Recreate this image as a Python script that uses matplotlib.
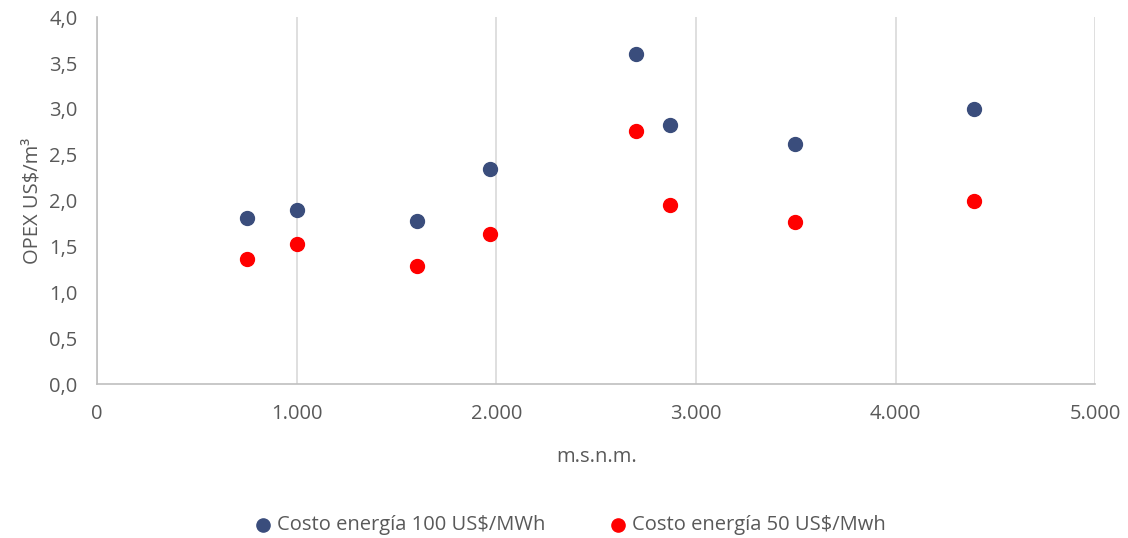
import matplotlib.pyplot as plt
from matplotlib.ticker import FuncFormatter, MultipleLocator

plt.rcParams["font.family"] = ["Open Sans", "DejaVu Sans"]

altitud = [751, 1002, 1603, 1969, 2700, 2871, 3497, 4394]
opex_100 = [1.81, 1.90, 1.78, 2.34, 3.60, 2.82, 2.62, 3.00]
opex_50 = [1.36, 1.53, 1.29, 1.64, 2.76, 1.95, 1.77, 2.00]

text_color = "#595959"
grid_color = "#d9d9d9"
fs = 14.5

fig = plt.figure(figsize=(11.28, 5.38), dpi=100)
ax = fig.add_axes([0.086, 0.286, 0.885, 0.682])

ax.scatter(altitud, opex_100, s=100, color="#3a4d7c", label="Costo energía 100 US$/MWh", zorder=3)
ax.scatter(altitud, opex_50, s=100, color="#ff0000", label="Costo energía 50 US$/Mwh", zorder=3)

ax.set_xlim(0, 5000)
ax.set_ylim(0, 4.0)
ax.xaxis.set_major_locator(MultipleLocator(1000))
ax.yaxis.set_major_locator(MultipleLocator(0.5))
ax.xaxis.set_major_formatter(FuncFormatter(lambda v, p: f"{int(v):,}".replace(",", ".")))
ax.yaxis.set_major_formatter(FuncFormatter(lambda v, p: f"{v:.1f}".replace(".", ",")))

ax.grid(axis="x", color=grid_color, linewidth=1.2)
ax.grid(axis="y", visible=False)
for side in ("top", "right"):
    ax.spines[side].set_visible(False)
for side in ("left", "bottom"):
    ax.spines[side].set_color("#bfbfbf")
    ax.spines[side].set_linewidth(1.2)

ax.tick_params(length=0, labelsize=fs, colors=text_color)
ax.tick_params(axis="y", pad=14)
ax.tick_params(axis="x", pad=14)
ax.set_xlabel("m.s.n.m.", fontsize=fs, color=text_color, labelpad=17)
ax.set_ylabel("OPEX US$/m³", fontsize=fs, color=text_color, labelpad=5)

ax.legend(loc="center", bbox_to_anchor=(0.468, -0.385), ncol=2, frameon=False,
          fontsize=fs, labelcolor=text_color, handletextpad=-0.3, columnspacing=2.6,
          markerscale=0.95)

fig.savefig("out.png", dpi=100)
